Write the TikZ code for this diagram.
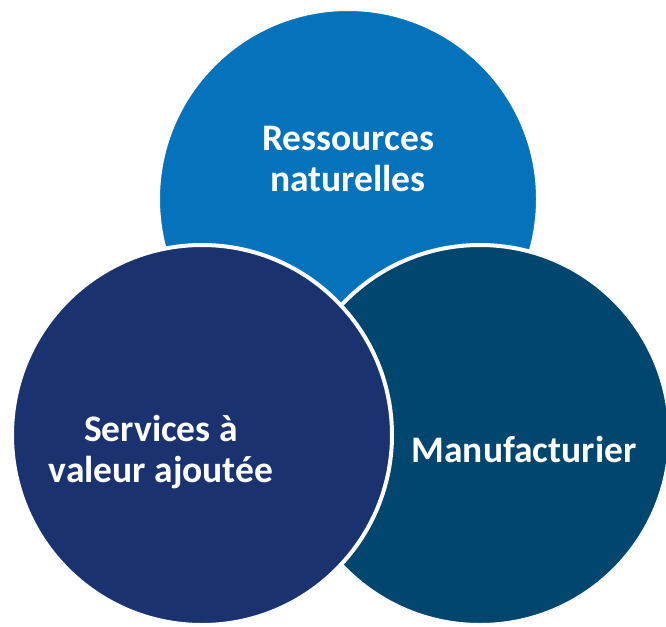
\documentclass[tikz,border=0pt]{standalone}
\usepackage{fontspec}
\setmainfont{Carlito}
\definecolor{topblue}{RGB}{5,114,188}
\definecolor{navy}{RGB}{26,51,112}
\definecolor{teal}{RGB}{0,70,111}
\begin{document}
\begin{tikzpicture}[x=1pt,y=-1pt,
  disc/.style={circle,draw=white,line width=4pt,minimum size=380pt,inner sep=0pt,outer sep=0pt},
  lbl/.style={text=white,font=\fontsize{37.5}{41}\selectfont\bfseries,align=center,anchor=base,inner sep=0pt}]
  \fill[white] (0,0) rectangle (666,626);
  \useasboundingbox (0,0) rectangle (666,626);
  \node[disc,fill=topblue] (top) at (348,199) {};
  \node[disc,fill=teal] (right) at (480,435) {};
  \node[disc,fill=navy] (left) at (202,435) {};
  \node[lbl] (tRes) at (348,191) {Ressources\\naturelles};
  \node[lbl] (tSer) at (161,482) {Services à\\valeur ajoutée};
  \node[lbl] (tMan) at (524,462) {Manufacturier};
\end{tikzpicture}
\end{document}
